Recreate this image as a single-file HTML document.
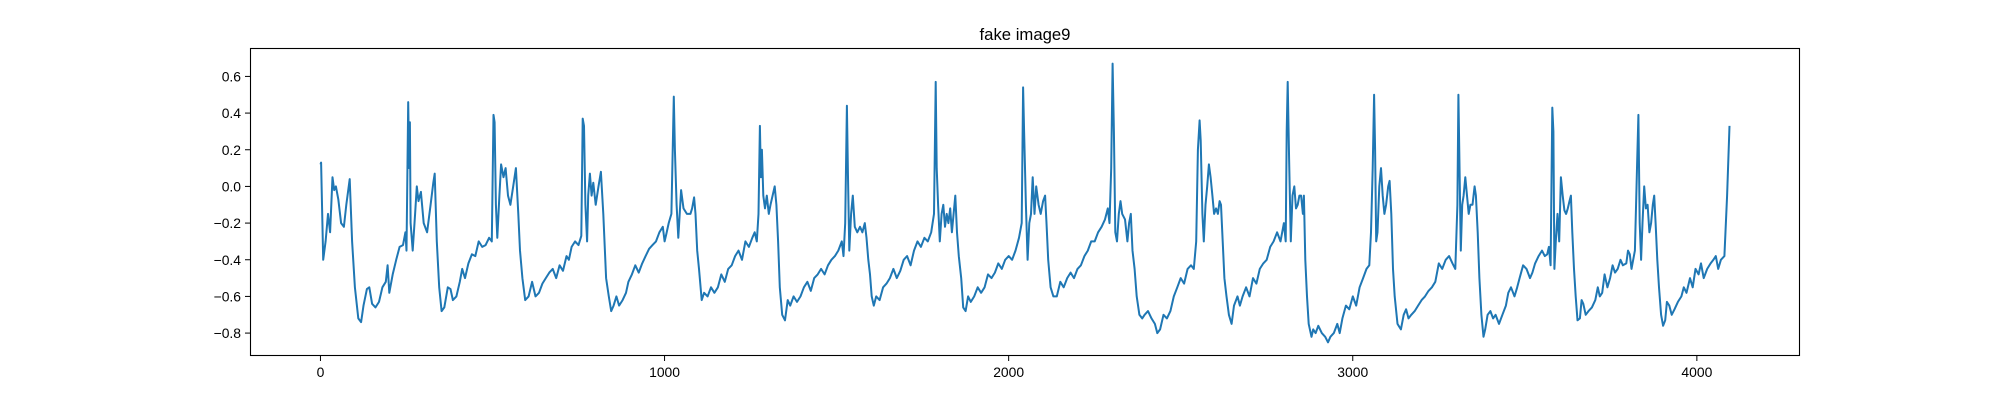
<!DOCTYPE html>
<html><head><meta charset="utf-8"><style>
html,body{margin:0;padding:0;background:#fff;}
svg{display:block;font-family:"Liberation Sans","DejaVu Sans",sans-serif;}
</style></head><body>
<svg id="chart" width="2000" height="400" xmlns="http://www.w3.org/2000/svg">
<rect width="2000" height="400" fill="#fff"/>
<text x="1025" y="40" font-size="16.7" text-anchor="middle" fill="#000">fake image9</text>
<g id="xt"></g>
<g id="yt"></g>
<path id="ln" fill="none" stroke="#1f77b4" stroke-width="2" stroke-linejoin="round"/>
<rect x="250.5" y="48.5" width="1549" height="307" fill="none" stroke="#000" stroke-width="1.1"/>
</svg>
<script>
const xTicks=[0,1000,2000,3000,4000];
const yTicks=[-0.8,-0.6,-0.4,-0.2,0.0,0.2,0.4,0.6];
const yTickLabels=["−0.8","−0.6","−0.4","−0.2","0.0","0.2","0.4","0.6"];
const sampleIdx=[0,2,8,15,22,28,35,40,45,52,60,68,75,85,92,100,110,118,125,135,142,150,160,170,180,190,195,200,210,220,230,240,247,250,255,258,260,262,268,275,280,285,292,300,310,320,328,332,338,345,352,360,370,378,385,395,405,412,420,430,440,450,460,470,480,490,498,503,506,510,514,520,525,532,538,545,552,560,568,575,580,587,595,605,615,625,635,645,655,665,675,685,695,705,715,722,730,740,750,758,762,766,770,775,778,783,788,793,800,808,815,822,830,838,845,852,860,868,878,888,895,905,915,925,935,945,955,965,975,985,995,1000,1005,1012,1020,1027,1030,1035,1040,1048,1055,1065,1075,1080,1086,1090,1095,1100,1108,1115,1125,1135,1145,1155,1165,1175,1185,1195,1205,1215,1225,1235,1245,1255,1262,1268,1273,1277,1280,1283,1287,1292,1297,1303,1308,1314,1320,1325,1330,1335,1342,1350,1358,1365,1375,1385,1395,1405,1415,1425,1435,1445,1455,1465,1475,1485,1495,1505,1515,1520,1525,1530,1533,1537,1542,1547,1553,1560,1568,1575,1582,1587,1592,1597,1602,1608,1615,1625,1635,1645,1655,1665,1675,1685,1695,1705,1715,1725,1735,1745,1755,1765,1775,1783,1788,1791,1795,1800,1805,1810,1815,1820,1825,1830,1835,1840,1845,1850,1855,1862,1868,1875,1882,1890,1900,1910,1920,1930,1940,1950,1960,1970,1980,1990,2000,2010,2020,2030,2038,2042,2045,2050,2055,2060,2065,2070,2075,2080,2087,2093,2100,2106,2110,2115,2122,2130,2140,2150,2160,2170,2180,2190,2200,2210,2220,2230,2240,2250,2260,2270,2280,2288,2293,2298,2302,2306,2310,2315,2320,2325,2330,2338,2345,2350,2355,2360,2366,2372,2380,2388,2395,2405,2415,2425,2432,2440,2450,2460,2470,2480,2490,2500,2510,2520,2530,2538,2545,2550,2555,2558,2563,2567,2572,2577,2582,2587,2592,2597,2603,2608,2613,2617,2622,2627,2633,2640,2648,2655,2665,2672,2680,2690,2700,2710,2720,2730,2740,2750,2760,2770,2780,2790,2800,2805,2808,2811,2815,2820,2825,2830,2835,2840,2845,2850,2855,2858,2862,2867,2872,2880,2885,2892,2900,2910,2920,2928,2935,2945,2955,2962,2970,2980,2990,3000,3010,3020,3030,3040,3048,3053,3058,3062,3065,3068,3072,3077,3082,3087,3092,3097,3103,3107,3112,3117,3122,3130,3140,3148,3155,3162,3170,3180,3190,3200,3210,3220,3230,3240,3250,3260,3270,3280,3290,3298,3304,3307,3310,3314,3318,3322,3327,3332,3337,3342,3348,3354,3358,3363,3368,3374,3380,3385,3392,3400,3408,3415,3425,3435,3445,3452,3460,3470,3478,3485,3495,3505,3515,3522,3530,3540,3550,3558,3565,3570,3575,3580,3583,3586,3590,3595,3600,3605,3610,3615,3620,3625,3630,3634,3638,3643,3648,3653,3660,3665,3670,3677,3685,3695,3705,3712,3718,3725,3732,3740,3748,3755,3762,3770,3778,3785,3795,3800,3805,3810,3820,3826,3830,3834,3838,3842,3847,3852,3857,3862,3867,3872,3876,3880,3885,3890,3896,3902,3908,3913,3920,3927,3935,3945,3955,3962,3970,3980,3988,3996,4005,4012,4020,4030,4040,4048,4055,4062,4070,4080,4088,4095];
const sampleVal=[0.12,0.13,-0.40,-0.3,-0.15,-0.25,0.05,-0.02,0.0,-0.07,-0.2,-0.22,-0.1,0.04,-0.3,-0.55,-0.72,-0.74,-0.65,-0.56,-0.55,-0.64,-0.66,-0.63,-0.55,-0.52,-0.43,-0.58,-0.48,-0.4,-0.33,-0.32,-0.25,-0.35,0.46,0.1,0.35,-0.2,-0.35,-0.15,0.0,-0.08,-0.03,-0.2,-0.25,-0.1,0.02,0.07,-0.3,-0.55,-0.68,-0.66,-0.55,-0.56,-0.62,-0.6,-0.52,-0.45,-0.5,-0.42,-0.37,-0.38,-0.3,-0.33,-0.32,-0.28,-0.3,0.39,0.35,-0.1,-0.28,-0.05,0.12,0.05,0.1,-0.05,-0.1,0.0,0.1,-0.15,-0.35,-0.5,-0.62,-0.6,-0.52,-0.6,-0.58,-0.53,-0.5,-0.47,-0.45,-0.5,-0.43,-0.46,-0.38,-0.4,-0.33,-0.3,-0.32,-0.27,0.37,0.33,-0.1,-0.3,-0.05,0.07,-0.05,0.02,-0.1,0.0,0.08,-0.15,-0.5,-0.6,-0.68,-0.65,-0.6,-0.65,-0.62,-0.58,-0.52,-0.48,-0.43,-0.47,-0.42,-0.38,-0.34,-0.32,-0.3,-0.25,-0.22,-0.3,-0.26,-0.2,-0.15,0.49,0.2,-0.1,-0.28,-0.02,-0.12,-0.15,-0.15,-0.12,-0.06,-0.15,-0.35,-0.45,-0.62,-0.58,-0.6,-0.55,-0.58,-0.55,-0.48,-0.52,-0.45,-0.43,-0.38,-0.35,-0.4,-0.3,-0.33,-0.28,-0.25,-0.3,-0.15,0.33,0.05,0.2,-0.05,-0.12,-0.05,-0.15,-0.1,-0.05,0.0,-0.1,-0.3,-0.55,-0.7,-0.73,-0.62,-0.65,-0.6,-0.63,-0.6,-0.55,-0.52,-0.57,-0.5,-0.48,-0.45,-0.48,-0.43,-0.4,-0.38,-0.35,-0.3,-0.38,-0.2,0.44,0.05,-0.35,-0.15,-0.05,-0.22,-0.25,-0.22,-0.25,-0.2,-0.28,-0.4,-0.48,-0.6,-0.65,-0.6,-0.62,-0.55,-0.53,-0.5,-0.45,-0.5,-0.46,-0.4,-0.38,-0.43,-0.35,-0.3,-0.33,-0.28,-0.3,-0.25,-0.15,0.57,0.1,-0.1,-0.3,-0.15,-0.1,-0.22,-0.15,-0.2,-0.12,-0.25,-0.15,-0.05,-0.25,-0.38,-0.5,-0.66,-0.68,-0.6,-0.63,-0.6,-0.55,-0.58,-0.55,-0.48,-0.5,-0.47,-0.42,-0.45,-0.4,-0.38,-0.4,-0.35,-0.28,-0.2,0.54,0.3,-0.1,-0.4,-0.2,-0.15,0.05,-0.15,0.0,-0.1,-0.15,-0.08,-0.05,-0.2,-0.4,-0.55,-0.6,-0.6,-0.52,-0.55,-0.5,-0.47,-0.5,-0.45,-0.43,-0.38,-0.35,-0.3,-0.3,-0.25,-0.22,-0.18,-0.12,-0.2,0.1,0.67,0.3,-0.25,-0.3,-0.15,-0.08,-0.15,-0.18,-0.3,-0.2,-0.15,-0.35,-0.45,-0.6,-0.7,-0.72,-0.7,-0.68,-0.72,-0.75,-0.8,-0.78,-0.7,-0.72,-0.68,-0.6,-0.55,-0.5,-0.53,-0.45,-0.43,-0.45,-0.3,0.2,0.36,0.25,-0.15,-0.3,-0.1,0.0,0.12,0.05,-0.05,-0.15,-0.12,-0.15,-0.08,-0.1,-0.3,-0.5,-0.6,-0.7,-0.75,-0.65,-0.6,-0.65,-0.6,-0.55,-0.6,-0.5,-0.53,-0.45,-0.42,-0.4,-0.33,-0.3,-0.25,-0.3,-0.2,-0.3,0.3,0.57,0.15,-0.3,-0.05,0.0,-0.12,-0.1,-0.05,-0.05,-0.15,-0.05,-0.4,-0.6,-0.75,-0.82,-0.78,-0.8,-0.76,-0.8,-0.82,-0.85,-0.82,-0.8,-0.75,-0.8,-0.72,-0.65,-0.67,-0.6,-0.65,-0.55,-0.5,-0.45,-0.43,-0.25,0.1,0.5,0.2,-0.3,-0.25,0.0,0.1,-0.05,-0.15,-0.1,0.0,0.03,-0.15,-0.45,-0.6,-0.75,-0.78,-0.7,-0.67,-0.72,-0.7,-0.68,-0.65,-0.62,-0.6,-0.57,-0.55,-0.52,-0.42,-0.45,-0.4,-0.38,-0.42,-0.45,-0.1,0.5,0.15,-0.35,-0.1,-0.05,0.05,-0.05,-0.15,-0.1,-0.1,0.0,-0.05,-0.25,-0.5,-0.7,-0.82,-0.78,-0.7,-0.68,-0.72,-0.7,-0.75,-0.7,-0.65,-0.58,-0.55,-0.6,-0.55,-0.5,-0.43,-0.45,-0.5,-0.47,-0.42,-0.38,-0.35,-0.38,-0.37,-0.33,-0.43,0.43,0.3,-0.45,-0.3,-0.15,-0.3,0.05,-0.05,-0.13,-0.15,-0.12,-0.08,-0.05,-0.25,-0.45,-0.6,-0.73,-0.72,-0.62,-0.64,-0.7,-0.68,-0.66,-0.62,-0.55,-0.6,-0.58,-0.48,-0.55,-0.5,-0.43,-0.47,-0.45,-0.4,-0.43,-0.42,-0.35,-0.37,-0.45,-0.35,0.1,0.39,-0.2,-0.4,-0.2,0.0,-0.12,-0.1,-0.25,-0.2,-0.1,-0.05,-0.2,-0.4,-0.55,-0.7,-0.76,-0.73,-0.63,-0.65,-0.7,-0.67,-0.63,-0.6,-0.55,-0.58,-0.5,-0.55,-0.45,-0.48,-0.42,-0.5,-0.45,-0.42,-0.4,-0.38,-0.45,-0.4,-0.38,-0.05,0.33];
const X0=250,X1=1800,Y0=48,Y1=356;
const xmin=-204.75,xmax=4299.75,ymin=-0.925,ymax=0.755;
function sx(v){return X0+(v-xmin)/(xmax-xmin)*(X1-X0);}
function sy(v){return Y1-(v-ymin)/(ymax-ymin)*(Y1-Y0);}
const NS="http://www.w3.org/2000/svg";
let d="";
for(let i=0;i<sampleIdx.length;i++){d+=(i?"L":"M")+sx(sampleIdx[i]).toFixed(1)+","+sy(sampleVal[i]).toFixed(1);}
document.getElementById("ln").setAttribute("d",d);
const xt=document.getElementById("xt"),yt=document.getElementById("yt");
xTicks.forEach(t=>{
  const x=sx(t);
  const l=document.createElementNS(NS,"line");
  l.setAttribute("x1",x);l.setAttribute("x2",x);l.setAttribute("y1",Y1);l.setAttribute("y2",Y1+5);
  l.setAttribute("stroke","#000");l.setAttribute("stroke-width","1");
  
  
  xt.appendChild(l);
  const tx=document.createElementNS(NS,"text");
  tx.setAttribute("x",x);tx.setAttribute("y",Y1+21);tx.setAttribute("text-anchor","middle");tx.setAttribute("font-size","13.9");
  tx.textContent=String(t);
  
  
  xt.appendChild(tx);
});
yTicks.forEach((t,i)=>{
  const y=sy(t);
  const l=document.createElementNS(NS,"line");
  l.setAttribute("x1",X0-5);l.setAttribute("x2",X0);l.setAttribute("y1",y);l.setAttribute("y2",y);
  l.setAttribute("stroke","#000");l.setAttribute("stroke-width","1");
  
  
  yt.appendChild(l);
  const tx=document.createElementNS(NS,"text");
  tx.setAttribute("x",X0-9);tx.setAttribute("y",y+5);tx.setAttribute("text-anchor","end");tx.setAttribute("font-size","13.9");
  tx.textContent=yTickLabels[i];
  
  
  yt.appendChild(tx);
});
</script>
</body></html>
